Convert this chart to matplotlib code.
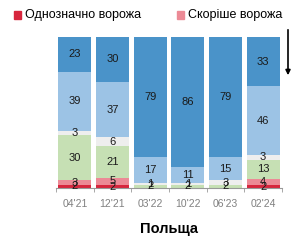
import matplotlib.pyplot as plt
import numpy as np

plt.rcParams['font.family'] = ['Liberation Sans', 'DejaVu Sans']

periods = ["04'21", "12'21", "03'22", "10'22", "06'23", "02'24"]

# bottom to top
hostile_sure = [2, 2, 0, 0, 0, 2]
hostile_rather = [3, 5, 0, 0, 0, 4]
neutral = [30, 21, 2, 2, 2, 13]
hard_to_say = [3, 6, 1, 1, 3, 3]
friendly_rather = [39, 37, 17, 11, 15, 46]
friendly_sure = [23, 30, 79, 86, 79, 33]

layers = [hostile_sure, hostile_rather, neutral, hard_to_say, friendly_rather, friendly_sure]
colors = ["#d7263d", "#ec8a96", "#c6e0b4", "#eeeeee", "#9cc3e5", "#4a93c9"]

fig = plt.figure(figsize=(3.01, 2.43), dpi=100)
ax = fig.add_axes([56 / 301, 55 / 243, 226 / 301, 151 / 243])

x = np.arange(len(periods))
totals = np.sum(np.array(layers, dtype=float), axis=0)
bottom = np.zeros(len(periods))
for vals, col in zip(layers, colors):
    vals = np.array(vals, dtype=float)
    h = vals / totals * 100
    ax.bar(x, h, bottom=bottom, width=0.88, color=col, linewidth=0)
    for xi, b, hv, v in zip(x, bottom, h, vals):
        if v > 0:
            ax.text(xi, b + hv / 2, str(int(v)), ha="center", va="center",
                    fontsize=8, color="#1a1a1a")
    bottom += h

ax.set_xlim(-0.5, 5.5)
ax.set_ylim(0, 100)
ax.set_yticks([])
ax.set_xticks(x)
ax.set_xticklabels(periods, fontsize=7.5, color="#808080")
ax.set_xticks(np.arange(-0.5, 6, 1), minor=True)
ax.tick_params(axis="x", which="major", length=0, pad=8)
ax.tick_params(axis="x", which="minor", length=3, color="#999999", direction="out")
for s in ["top", "right", "left"]:
    ax.spines[s].set_visible(False)
ax.spines["bottom"].set_color("#999999")
ax.set_xlabel("Польща", fontsize=10.5, fontweight="bold", labelpad=9)

# legend
fig.patches.append(plt.Rectangle((14 / 301, 1 - 19 / 243), 7 / 301, 8 / 243,
                                 transform=fig.transFigure, color=colors[0]))
fig.text(25 / 301, 1 - 15 / 243, "Однозначно ворожа", fontsize=9, va="center")
fig.patches.append(plt.Rectangle((177 / 301, 1 - 19 / 243), 7 / 301, 8 / 243,
                                 transform=fig.transFigure, color=colors[1]))
fig.text(188 / 301, 1 - 15 / 243, "Скоріше ворожа", fontsize=9, va="center")

# arrow
ax.annotate("", xy=(288 / 301, 1 - 78 / 243), xytext=(288 / 301, 1 - 27 / 243),
            xycoords="figure fraction", textcoords="figure fraction",
            arrowprops=dict(arrowstyle="-|>", color="black", lw=1.2, mutation_scale=7))

fig.savefig("out.png", dpi=100)
